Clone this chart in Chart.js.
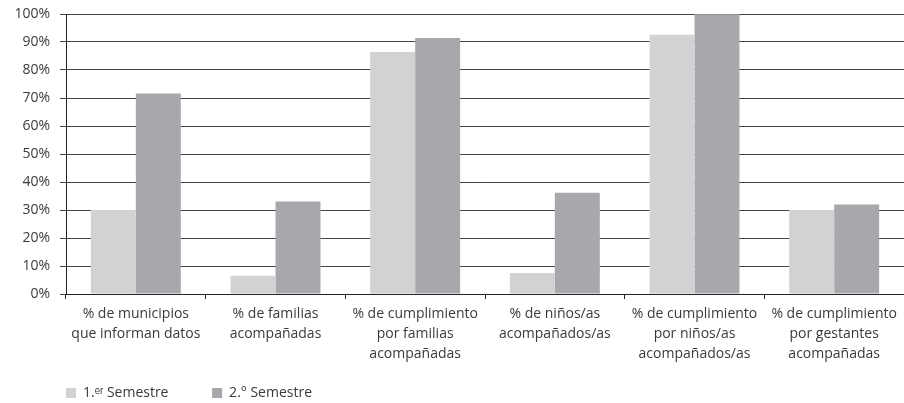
<!DOCTYPE html>
<html>
<head>
<meta charset="utf-8">
<script src="https://cdn.jsdelivr.net/npm/chart.js@4"></script>
<style>
  html, body { margin: 0; padding: 0; background: #fff; }
  #caja { width: 904px; height: 403px; }
</style>
</head>
<body>
<div id="caja"><canvas id="grafico"></canvas></div>
<script>
// Datos
const categorias = [
    ['% de municipios', 'que informan datos'],
    ['% de familias', 'acompañadas'],
    ['% de cumplimiento', 'por familias', 'acompañadas'],
    ['% de niños/as', 'acompañados/as'],
    ['% de cumplimiento', 'por niños/as', 'acompañados/as'],
    ['% de cumplimiento', 'por gestantes', 'acompañadas']
];
const primerSemestre = [30, 6.5, 86.4, 7.5, 92.6, 30];
const segundoSemestre = [71.6, 33, 91.4, 36.2, 99.9, 32];
const nombresSeries = ['1.ᵉʳ Semestre', '2.° Semestre'];
const marcasY = [0, 10, 20, 30, 40, 50, 60, 70, 80, 90, 100];

const fuente = { family: '"Open Sans", sans-serif', size: 14, lineHeight: 1.43 };
const colorTexto = '#3a3a3a';

const grafico = new Chart(document.getElementById('grafico'), {
    type: 'bar',
    data: {
        labels: categorias,
        datasets: [{
            label: nombresSeries[0] + '            ',
            data: primerSemestre,
            backgroundColor: '#d1d2d4'
        }, {
            label: nombresSeries[1],
            data: segundoSemestre,
            backgroundColor: '#a7a8ab'
        }]
    },
    options: {
        responsive: true,
        maintainAspectRatio: false,
        animation: false,
        layout: { padding: { left: 0, top: 14, right: 0, bottom: -7 } },
        datasets: { bar: { categoryPercentage: 0.644, barPercentage: 1 } },
        plugins: {
            tooltip: { enabled: false },
            legend: {
                position: 'bottom',
                align: 'start',
                fullSize: false,
                labels: {
                    boxWidth: 10,
                    boxHeight: 10,
                    padding: 0,
                    color: colorTexto,
                    font: { family: fuente.family, size: 14 }
                }
            }
        },
        scales: {
            x: {
                grid: {
                    offset: true,
                    drawOnChartArea: false,
                    drawTicks: true,
                    tickLength: 5,
                    color: '#222'
                },
                border: { color: '#222', width: 1 },
                ticks: {
                    color: colorTexto,
                    font: fuente,
                    padding: 5,
                    maxRotation: 0,
                    autoSkip: false
                },
                afterFit: (escala) => { escala.height = 92; }
            },
            y: {
                min: 0,
                max: 100,
                afterBuildTicks: (escala) => { escala.ticks = marcasY.map(v => ({ value: v })); },
                grid: { color: '#444', tickLength: 6 },
                border: { color: '#222', width: 1 },
                ticks: {
                    color: colorTexto,
                    font: { family: fuente.family, size: 14 },
                    padding: 10,
                    callback: (v) => v + '%'
                },
                afterFit: (escala) => {
                    escala.width = 66;
                    escala.paddingTop = 0;
                    escala.paddingBottom = 0;
                }
            }
        }
    }
});
</script>
</body>
</html>
